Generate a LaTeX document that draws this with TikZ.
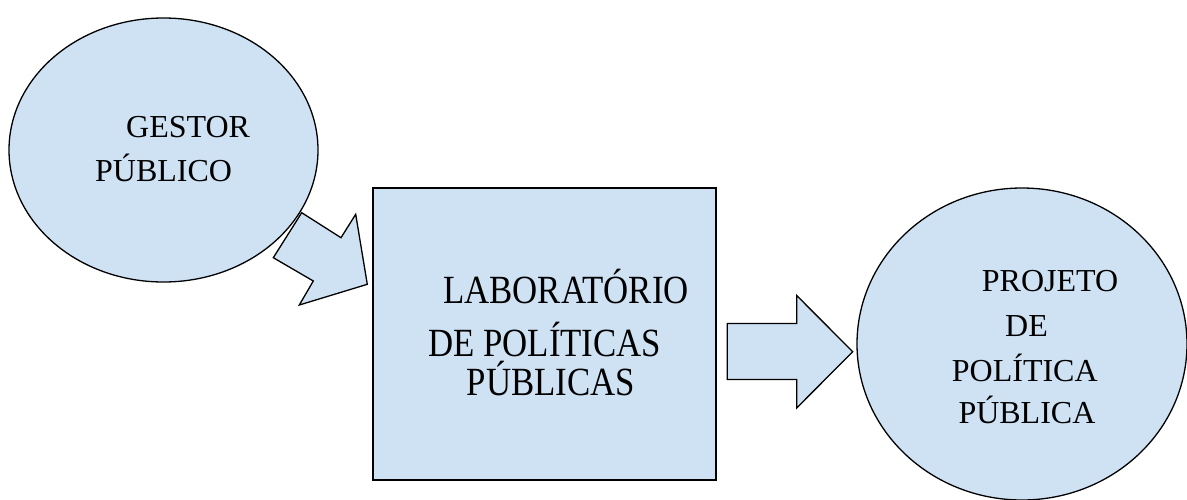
\documentclass[tikz,border=0pt]{standalone}
\usepackage{fontspec}
\setmainfont{Liberation Serif}
\newfontfamily\boxfont[FakeStretch=0.87]{Liberation Serif}
\usetikzlibrary{shapes.geometric}
\definecolor{fillblue}{RGB}{207,226,243}
\begin{document}
\begin{tikzpicture}[x=1pt,y=-1pt,
  shapebox/.style={draw=black, line width=1.3pt, fill=fillblue, line join=miter},
  ovaltext/.style={anchor=base west, inner sep=0pt, font=\fontsize{32}{38}\selectfont},
  boxtext/.style={anchor=base west, inner sep=0pt, font=\boxfont\fontsize{40}{48}\selectfont}]
\useasboundingbox (0,0) rectangle (1187,499);
% shapes
\node[shapebox, ellipse, minimum width=309pt, minimum height=264pt, inner sep=0pt] (gestor) at (163.5,150) {};
\node[shapebox, rectangle, minimum width=343pt, minimum height=292pt, inner sep=0pt] (lab) at (544.5,334) {};
\node[shapebox, ellipse, minimum width=330pt, minimum height=312pt, inner sep=0pt] (projeto) at (1022,344) {};
% block arrows
\draw[shapebox] (301.7,212.7) -- (341,237.7) -- (355.7,214.3) -- (367.3,284.3)
  -- (299.3,305) -- (313.3,281) -- (273.3,257.7) -- cycle;
\draw[shapebox] (727.3,323.5) -- (796.7,323.5) -- (796.7,295.5) -- (852.7,351.7)
  -- (796.7,408) -- (796.7,379.5) -- (727.3,379.5) -- cycle;
% texts
\node[ovaltext] (g1) at (126,137.3) {GESTOR};
\node[ovaltext] (g2) at (95,181.7) {PÚBLICO};
\node[boxtext] (l1) at (443,303.3) {LABORATÓRIO};
\node[boxtext] (l2) at (428,356.7) {DE POLÍTICAS};
\node[boxtext] (l3) at (466.7,395) {PÚBLICAS};
\node[ovaltext] (p1) at (981.7,291.7) {PROJETO};
\node[ovaltext] (p2) at (1005,336.7) {DE};
\node[ovaltext] (p3) at (951.7,381.7) {POLÍTICA};
\node[ovaltext] (p4) at (958.3,423.3) {PÚBLICA};
\end{tikzpicture}
\end{document}
